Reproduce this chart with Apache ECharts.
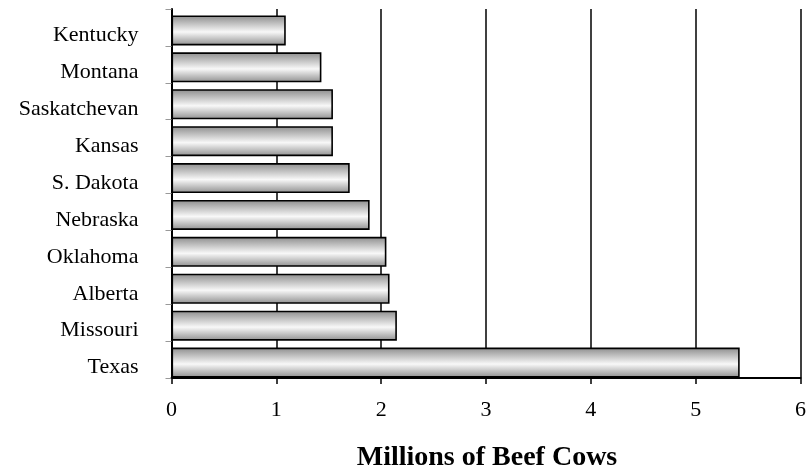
<!DOCTYPE html>
<html>
<head>
<meta charset="utf-8">
<script src="https://cdn.jsdelivr.net/npm/echarts@6/dist/echarts.min.js"></script>
<style>
  html, body { margin: 0; padding: 0; background: #fff; }
  #chart { width: 809px; height: 468px; }
</style>
</head>
<body>
<div id="chart"></div>
<script>
// Beef cow inventory by state / province (millions of head)
const regions = ['Kentucky', 'Montana', 'Saskatchevan', 'Kansas', 'S. Dakota',
                 'Nebraska', 'Oklahoma', 'Alberta', 'Missouri', 'Texas'];
const beefCows = [1.09, 1.43, 1.54, 1.54, 1.70, 1.89, 2.05, 2.08, 2.15, 5.42];
const axisTitle = 'Millions of Beef Cows';
const xMin = 0, xMax = 6, xStep = 1;

const FONT = '"Liberation Serif", "Times New Roman", serif';

const chart = echarts.init(document.getElementById('chart'), null, { renderer: 'canvas' });

const barFill = new echarts.graphic.LinearGradient(0, 0, 0, 1, [
  { offset: 0, color: '#8c8c8c' },
  { offset: 0.55, color: '#f8f8f8' },
  { offset: 1, color: '#8f8f8f' }
]);

chart.setOption({
  animation: false,
  backgroundColor: '#ffffff',
  grid: { left: 171.5, right: 8.5, top: 9, bottom: 90, containLabel: false },
  title: {
    text: axisTitle,
    left: 482,
    top: 439,
    textAlign: 'center',
    textStyle: { fontFamily: FONT, fontWeight: 'bold', fontSize: 28, color: '#000' }
  },
  xAxis: {
    type: 'value',
    min: xMin, max: xMax, interval: xStep,
    axisLine: { show: true, lineStyle: { color: '#000', width: 2 } },
    axisTick: { show: true, length: 6, lineStyle: { color: '#000', width: 1.5 } },
    axisLabel: { fontFamily: FONT, fontSize: 22, color: '#000', margin: 21 },
    splitLine: { show: true, lineStyle: { color: '#000', width: 1.5 } }
  },
  yAxis: {
    type: 'category',
    data: regions,
    inverse: true,
    axisLine: { show: true, lineStyle: { color: '#000', width: 2 } },
    axisTick: { show: true, length: 6, lineStyle: { color: '#999', width: 1 } },
    axisLabel: {
      fontFamily: FONT, fontSize: 22, color: '#000', margin: 33,
      verticalAlign: 'top', lineHeight: 16
    }
  },
  series: [
    {
      // spacer that pushes each bar toward the lower edge of its band
      type: 'bar',
      data: regions.map(() => 0),
      barWidth: 6,
      barGap: 0,
      silent: true,
      itemStyle: { color: 'rgba(0,0,0,0)', borderWidth: 0 }
    },
    {
      type: 'bar',
      data: beefCows,
      barWidth: 30,
      barGap: 0,
      itemStyle: { color: barFill, borderColor: '#000', borderWidth: 1.6 }
    }
  ]
});
</script>
</body>
</html>
